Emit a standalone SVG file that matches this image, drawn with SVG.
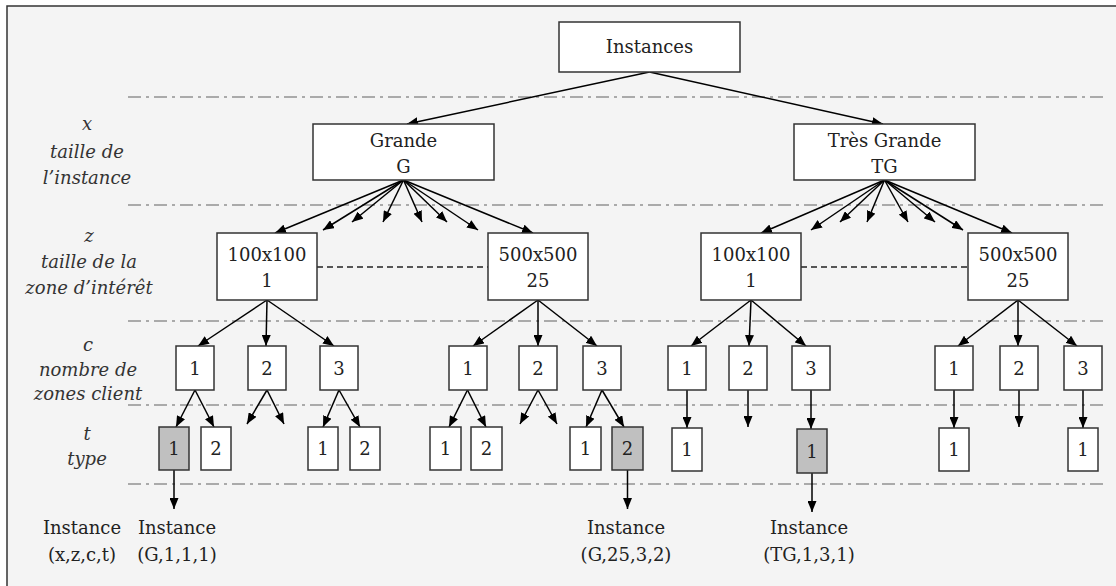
<svg xmlns="http://www.w3.org/2000/svg" width="1116" height="586" viewBox="0 0 1116 586">
<defs>
<marker id="ah" markerWidth="11" markerHeight="9" refX="11" refY="4.5" orient="auto" markerUnits="userSpaceOnUse">
<path d="M0,0 L11,4.5 L0,9 z" fill="#000"/>
</marker>
<style>
.bx{fill:#fff;stroke:#333;stroke-width:1.5}
.gr{fill:#c0c0c0;stroke:#333;stroke-width:1.5}
.t{font-family:"DejaVu Serif","Liberation Serif",serif;font-size:18px;fill:#222;text-anchor:middle}
.lb{font-family:"DejaVu Serif","Liberation Serif",serif;font-size:18px;font-style:italic;fill:#333;text-anchor:middle}
.sep{stroke:#aaa;stroke-width:2;stroke-dasharray:13 5 3 5;fill:none}
.ar{stroke:#000;stroke-width:1.5;fill:none;marker-end:url(#ah)}
.dl{stroke:#222;stroke-width:1.5;stroke-dasharray:6 4;fill:none}
</style>
</defs>
<rect x="0" y="0" width="1116" height="586" fill="#fff"/>
<rect x="7" y="6" width="1120" height="600" fill="#f4f4f4" stroke="#333" stroke-width="1.5"/>
<g id="separators">
<line class="sep" x1="128" y1="97" x2="1106" y2="97"/>
<line class="sep" x1="128" y1="205" x2="1106" y2="205"/>
<line class="sep" x1="128" y1="321" x2="1106" y2="321"/>
<line class="sep" x1="128" y1="405" x2="1106" y2="405"/>
<line class="sep" x1="128" y1="484" x2="1106" y2="484"/>
</g>
<g id="labels">
<text class="lb" x="87" y="130">x</text>
<text class="lb" x="87" y="158">taille de</text>
<text class="lb" x="87" y="184">l’instance</text>
<text class="lb" x="89" y="242">z</text>
<text class="lb" x="89" y="268">taille de la</text>
<text class="lb" x="89" y="294">zone d’intérêt</text>
<text class="lb" x="88" y="351">c</text>
<text class="lb" x="88" y="376">nombre de</text>
<text class="lb" x="88" y="400">zones client</text>
<text class="lb" x="87" y="440">t</text>
<text class="lb" x="87" y="465">type</text>
</g>
<g id="connectors">
<line class="ar" x1="649.5" y1="72" x2="407" y2="124"/>
<line class="ar" x1="649.5" y1="72" x2="883" y2="124"/>
<line class="ar" x1="403.5" y1="180" x2="275" y2="233"/>
<line class="ar" x1="403.5" y1="180" x2="323" y2="230"/>
<line class="ar" x1="403.5" y1="180" x2="352" y2="222"/>
<line class="ar" x1="403.5" y1="180" x2="383" y2="222"/>
<line class="ar" x1="403.5" y1="180" x2="422" y2="222"/>
<line class="ar" x1="403.5" y1="180" x2="447" y2="222"/>
<line class="ar" x1="403.5" y1="180" x2="478" y2="230"/>
<line class="ar" x1="403.5" y1="180" x2="533" y2="233"/>
<line class="ar" x1="884.5" y1="180" x2="761" y2="233"/>
<line class="ar" x1="884.5" y1="180" x2="811" y2="230"/>
<line class="ar" x1="884.5" y1="180" x2="840" y2="222"/>
<line class="ar" x1="884.5" y1="180" x2="867" y2="222"/>
<line class="ar" x1="884.5" y1="180" x2="908" y2="222"/>
<line class="ar" x1="884.5" y1="180" x2="935" y2="222"/>
<line class="ar" x1="884.5" y1="180" x2="963" y2="230"/>
<line class="ar" x1="884.5" y1="180" x2="1012" y2="233"/>
<line class="dl" x1="317" y1="267" x2="488" y2="267"/>
<line class="dl" x1="801" y1="267" x2="968" y2="267"/>
<line class="ar" x1="267" y1="300" x2="198" y2="346"/>
<line class="ar" x1="267" y1="300" x2="266" y2="346"/>
<line class="ar" x1="267" y1="300" x2="334" y2="346"/>
<line class="ar" x1="538" y1="300" x2="473" y2="346"/>
<line class="ar" x1="538" y1="300" x2="538" y2="346"/>
<line class="ar" x1="538" y1="300" x2="597" y2="346"/>
<line class="ar" x1="751" y1="300" x2="691" y2="346"/>
<line class="ar" x1="751" y1="300" x2="749" y2="346"/>
<line class="ar" x1="751" y1="300" x2="806" y2="346"/>
<line class="ar" x1="1018" y1="300" x2="958" y2="346"/>
<line class="ar" x1="1018" y1="300" x2="1018" y2="346"/>
<line class="ar" x1="1018" y1="300" x2="1077" y2="346"/>
<line class="ar" x1="195" y1="390" x2="176" y2="427"/>
<line class="ar" x1="195" y1="390" x2="214" y2="427"/>
<line class="ar" x1="267" y1="390" x2="247" y2="424"/>
<line class="ar" x1="267" y1="390" x2="284" y2="424"/>
<line class="ar" x1="339" y1="390" x2="323" y2="427"/>
<line class="ar" x1="339" y1="390" x2="360" y2="427"/>
<line class="ar" x1="467.5" y1="390" x2="449" y2="427"/>
<line class="ar" x1="467.5" y1="390" x2="486" y2="427"/>
<line class="ar" x1="538" y1="390" x2="520" y2="424"/>
<line class="ar" x1="538" y1="390" x2="557" y2="424"/>
<line class="ar" x1="602" y1="390" x2="586" y2="427"/>
<line class="ar" x1="602" y1="390" x2="624" y2="427"/>
<line class="ar" x1="687" y1="390" x2="687" y2="428"/>
<line class="ar" x1="748" y1="390" x2="748" y2="427"/>
<line class="ar" x1="811" y1="390" x2="811" y2="429"/>
<line class="ar" x1="954" y1="390" x2="954" y2="428"/>
<line class="ar" x1="1019" y1="390" x2="1019" y2="427"/>
<line class="ar" x1="1083" y1="390" x2="1083" y2="428"/>
<line class="ar" x1="174" y1="470" x2="174" y2="509"/>
<line class="ar" x1="627.5" y1="470" x2="627.5" y2="509"/>
<line class="ar" x1="812" y1="473" x2="812" y2="512"/>
</g>
<g id="n-instances"><rect class="bx" x="559" y="22" width="181" height="50"/><text class="t" x="649.5" y="53">Instances</text></g>
<g id="n-G"><rect class="bx" x="313" y="124" width="181" height="56"/><text class="t" x="403.5" y="147">Grande</text><text class="t" x="403.5" y="173">G</text></g>
<g id="n-TG"><rect class="bx" x="794" y="124" width="181" height="56"/><text class="t" x="884.5" y="147">Très Grande</text><text class="t" x="884.5" y="173">TG</text></g>
<g id="n-G-1"><rect class="bx" x="217" y="233" width="100" height="67"/><text class="t" x="267" y="261">100x100</text><text class="t" x="267" y="287">1</text></g>
<g id="n-G-25"><rect class="bx" x="488" y="233" width="100" height="67"/><text class="t" x="538" y="261">500x500</text><text class="t" x="538" y="287">25</text></g>
<g id="n-TG-1"><rect class="bx" x="701" y="233" width="100" height="67"/><text class="t" x="751" y="261">100x100</text><text class="t" x="751" y="287">1</text></g>
<g id="n-TG-25"><rect class="bx" x="968" y="233" width="100" height="67"/><text class="t" x="1018" y="261">500x500</text><text class="t" x="1018" y="287">25</text></g>
<g id="n-G-1-1"><rect class="bx" x="176" y="346" width="38" height="44"/><text class="t" x="195" y="375">1</text></g>
<g id="n-G-1-2"><rect class="bx" x="248" y="346" width="38" height="44"/><text class="t" x="267" y="375">2</text></g>
<g id="n-G-1-3"><rect class="bx" x="320" y="346" width="38" height="44"/><text class="t" x="339" y="375">3</text></g>
<g id="n-G-25-1"><rect class="bx" x="449" y="346" width="38" height="44"/><text class="t" x="468" y="375">1</text></g>
<g id="n-G-25-2"><rect class="bx" x="519" y="346" width="38" height="44"/><text class="t" x="538" y="375">2</text></g>
<g id="n-G-25-3"><rect class="bx" x="583" y="346" width="38" height="44"/><text class="t" x="602" y="375">3</text></g>
<g id="n-TG-1-1"><rect class="bx" x="668" y="346" width="38" height="44"/><text class="t" x="687" y="375">1</text></g>
<g id="n-TG-1-2"><rect class="bx" x="729" y="346" width="38" height="44"/><text class="t" x="748" y="375">2</text></g>
<g id="n-TG-1-3"><rect class="bx" x="792" y="346" width="38" height="44"/><text class="t" x="811" y="375">3</text></g>
<g id="n-TG-25-1"><rect class="bx" x="935" y="346" width="38" height="44"/><text class="t" x="954" y="375">1</text></g>
<g id="n-TG-25-2"><rect class="bx" x="1000" y="346" width="38" height="44"/><text class="t" x="1019" y="375">2</text></g>
<g id="n-TG-25-3"><rect class="bx" x="1064" y="346" width="38" height="44"/><text class="t" x="1083" y="375">3</text></g>
<g id="n-t-G111"><rect class="gr" x="159" y="427" width="30" height="43"/><text class="t" x="174" y="455">1</text></g>
<g id="n-t-G112"><rect class="bx" x="201" y="427" width="30" height="43"/><text class="t" x="216" y="455">2</text></g>
<g id="n-t-G131"><rect class="bx" x="308" y="427" width="30" height="43"/><text class="t" x="323" y="455">1</text></g>
<g id="n-t-G132"><rect class="bx" x="350" y="427" width="30" height="43"/><text class="t" x="365" y="455">2</text></g>
<g id="n-t-G2511"><rect class="bx" x="430" y="427" width="31" height="43"/><text class="t" x="445.5" y="455">1</text></g>
<g id="n-t-G2512"><rect class="bx" x="471" y="427" width="31" height="43"/><text class="t" x="486.5" y="455">2</text></g>
<g id="n-t-G2531"><rect class="bx" x="570" y="427" width="31" height="43"/><text class="t" x="585.5" y="455">1</text></g>
<g id="n-t-G2532"><rect class="gr" x="612" y="427" width="31" height="43"/><text class="t" x="627.5" y="455">2</text></g>
<g id="n-t-TG111"><rect class="bx" x="672" y="428" width="30" height="43"/><text class="t" x="687" y="456">1</text></g>
<g id="n-t-TG131"><rect class="gr" x="797" y="429" width="30" height="44"/><text class="t" x="812" y="458">1</text></g>
<g id="n-t-TG2511"><rect class="bx" x="939" y="428" width="30" height="43"/><text class="t" x="954" y="456">1</text></g>
<g id="n-t-TG2531"><rect class="bx" x="1068" y="428" width="30" height="43"/><text class="t" x="1083" y="456">1</text></g>
<g id="outputs">
<text class="t" x="82" y="534">Instance</text><text class="t" x="82" y="561">(x,z,c,t)</text>
<text class="t" x="177" y="534">Instance</text><text class="t" x="177" y="561">(G,1,1,1)</text>
<text class="t" x="626" y="534">Instance</text><text class="t" x="626" y="561">(G,25,3,2)</text>
<text class="t" x="809" y="534">Instance</text><text class="t" x="809" y="561">(TG,1,3,1)</text>
</g>
</svg>
